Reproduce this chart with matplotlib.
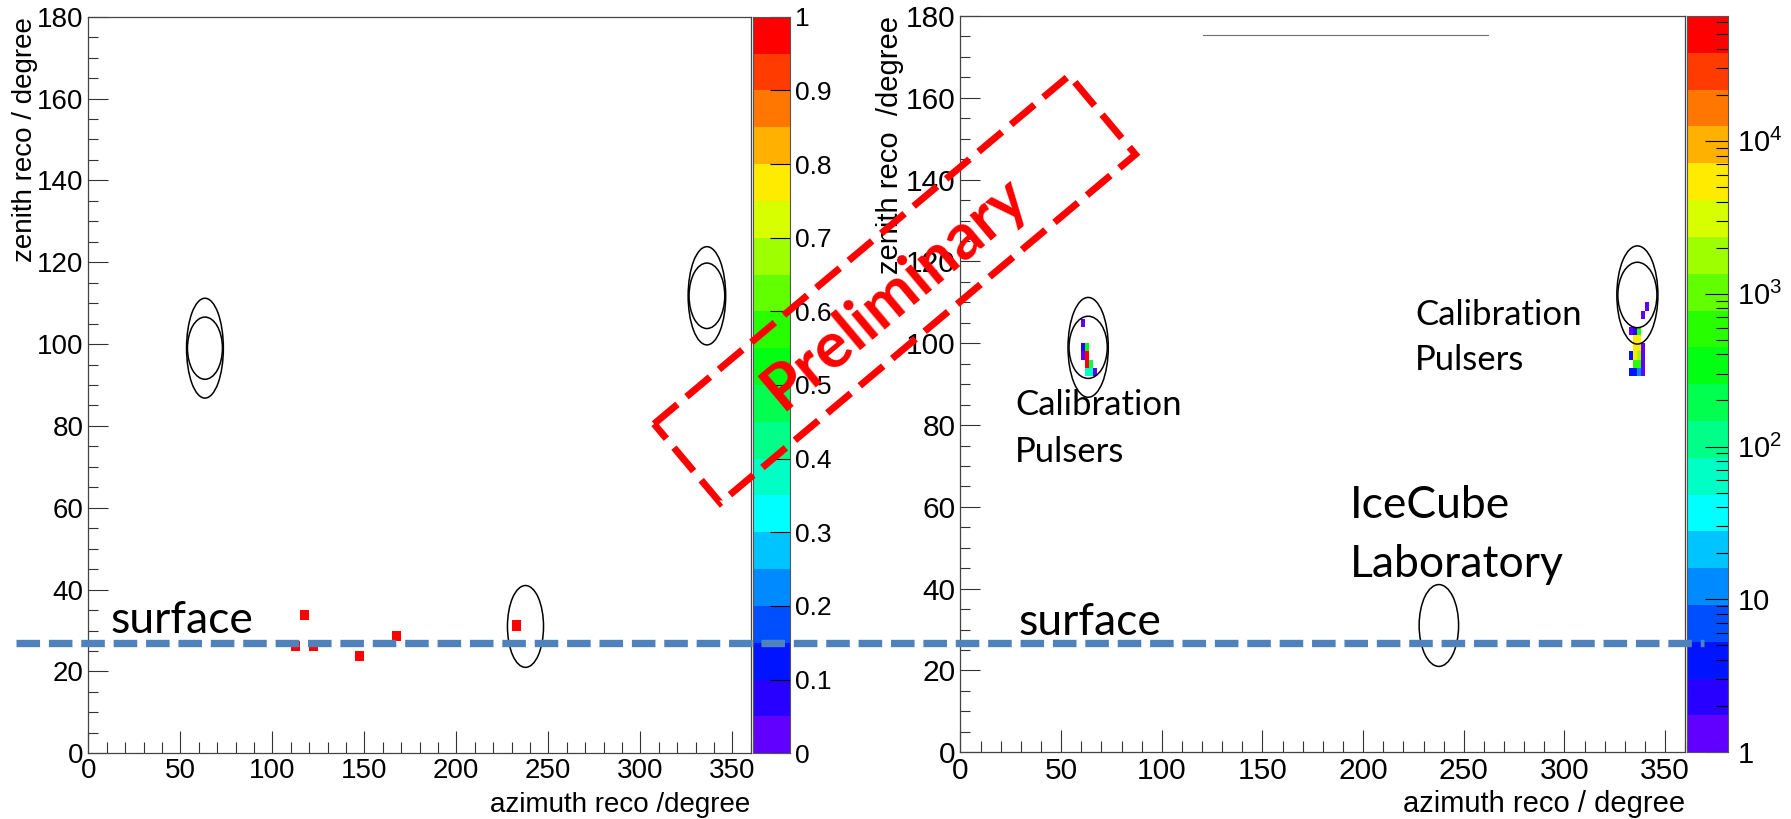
import numpy as np
import matplotlib
matplotlib.use("Agg")
import matplotlib.pyplot as plt
from matplotlib.colors import ListedColormap, BoundaryNorm, hsv_to_rgb
from matplotlib.patches import Ellipse, Polygon
from matplotlib.lines import Line2D
from matplotlib.ticker import MultipleLocator, FuncFormatter, LogLocator, NullFormatter

plt.rcParams['font.family'] = ['Liberation Sans', 'DejaVu Sans']
plt.rcParams['mathtext.default'] = 'regular'

W, H = 1791, 819

# ---- bin contents ----
# left: 5 x 2.5 degree bins, normalised
left_az = [117.5, 112.5, 122.5, 147.5, 167.5, 232.5]
left_zen = [33.75, 26.25, 26.25, 23.75, 28.75, 31.25]
left_val = [1, 1, 1, 1, 1, 1]

# right: 2 x 2 degree bins, counts
right_az = [61, 61, 61, 63, 63, 63, 65, 63, 65, 67,
            341, 339, 333, 335, 337, 335, 337, 335, 337, 339,
            333, 335, 337, 339, 335, 337, 339, 333, 335, 337, 339]
right_zen = [105, 99, 97, 99, 97, 95, 95, 93, 93, 93,
             109, 107, 103, 103, 103, 101, 101, 99, 99, 99,
             97, 97, 97, 97, 95, 95, 95, 93, 93, 93, 93]
right_cnt = [1.3, 2.5, 1.3, 300, 60000, 50000, 250, 60, 60, 1.3,
             1.3, 1.3, 1.3, 2.5, 500, 5000, 5000, 5500, 5000, 1.3,
             4, 5000, 1800, 1.3, 600, 600, 1.3, 4, 4, 12, 1.3]
right_zmax = 65400

# source regions drawn as ellipses (azimuth, zenith, width, height)
ell_az = [63.4, 63.4, 336.2, 336.2, 237.6]
ell_zen = [99.0, 99.0, 111.8, 111.8, 31.0]
ell_w = [20.0, 19.0, 20.4, 19.4, 19.6]
ell_h = [24.4, 15.2, 24.0, 16.0, 20.0]

surface_zen = 27.0

# ROOT "pretty" palette, 20 contour levels (violet -> red)
hues = 263.0 * (19 - np.arange(20)) / 19 / 360.0
pal = ListedColormap(hsv_to_rgb(np.column_stack([hues, np.ones(20), np.ones(20)])))


def fill_hist(az, zen, val, dx, dy):
    xe = np.arange(0, 360 + dx, dx)
    ye = np.arange(0, 180 + dy, dy)
    h, _, _ = np.histogram2d(az, zen, bins=[xe, ye], weights=val)
    return xe, ye, np.ma.masked_equal(h.T, 0)


def fig_rect(x0, y0, x1, y1):
    # pixel box (top-left origin) -> figure fraction
    return [x0 / W, 1 - y1 / H, (x1 - x0) / W, (y1 - y0) / H]


def style_frame(ax, fs, lfs, xlab, ylab, ylab_x, xlab_y):
    ax.set_xlim(0, 360)
    ax.set_ylim(0, 180)
    ax.xaxis.set_major_locator(MultipleLocator(50))
    ax.xaxis.set_minor_locator(MultipleLocator(10))
    ax.yaxis.set_major_locator(MultipleLocator(20))
    ax.yaxis.set_minor_locator(MultipleLocator(5))
    ax.tick_params(axis='x', which='major', direction='in', length=15.8, width=0.8,
                   color='#333333', pad=3.5, labelsize=fs, top=False)
    ax.tick_params(axis='x', which='minor', direction='in', length=7.9, width=0.8,
                   color='#333333', top=False)
    ax.tick_params(axis='y', which='major', direction='in', length=14.4, width=0.8,
                   color='#333333', pad=3.5, labelsize=fs, right=False)
    ax.tick_params(axis='y', which='minor', direction='in', length=7.2, width=0.8,
                   color='#333333', right=False)
    for s in ax.spines.values():
        s.set_color('#444444')
        s.set_linewidth(0.9)
    ax.set_xlabel(xlab, fontsize=lfs, loc='right')
    ax.xaxis.set_label_coords(1.0, xlab_y)
    ax.xaxis.label.set_va('baseline')
    ax.set_ylabel(ylab, fontsize=lfs, loc='top')
    ax.yaxis.set_label_coords(ylab_x, 1.0)
    ax.yaxis.label.set_va('center')
    for a, z, w, h in zip(ell_az, ell_zen, ell_w, ell_h):
        ax.add_patch(Ellipse((a, z), w, h, fill=False, ec='black', lw=1.1, zorder=3))


def palette_axis(cax, levels):
    cax.pcolormesh([0, 1], levels, np.arange(20).reshape(-1, 1), cmap=pal,
                   vmin=-0.5, vmax=19.5)
    cax.set_xlim(0, 1)
    cax.set_xticks([])
    cax.yaxis.tick_right()
    for s in cax.spines.values():
        s.set_color('#555555')
        s.set_linewidth(0.8)


fig = plt.figure(figsize=(W / 100, H / 100), dpi=100)

# ---- left panel ----
ax1 = fig.add_axes(fig_rect(88.3, 16.7, 750.7, 753.3))
xe, ye, h1 = fill_hist(left_az, left_zen, left_val, 5, 2.5)
ax1.pcolormesh(xe, ye, h1, cmap=pal, norm=BoundaryNorm(np.linspace(0, 1, 21), 20, clip=True))
style_frame(ax1, 20, 20, 'azimuth reco /degree', 'zenith reco / degree', -0.0956, -0.0793)
ax1.text(11.8, 29.4, 'surface', family='Lato', fontsize=32, va='baseline')

cax1 = fig.add_axes(fig_rect(752.7, 16.7, 790.0, 753.3))
palette_axis(cax1, np.linspace(0, 1, 21))
cax1.set_ylim(0, 1)
cax1.yaxis.set_major_locator(MultipleLocator(0.1))
cax1.yaxis.set_major_formatter(FuncFormatter(lambda v, _: f'{v:.1f}'.rstrip('0').rstrip('.') if v else '0'))
cax1.tick_params(axis='y', which='major', direction='in', length=14.4, width=0.8,
                 color='black', pad=3.6, labelsize=19, left=False, right=True)

# ---- right panel ----
ax2 = fig.add_axes(fig_rect(960.5, 16.0, 1685.3, 752.3))
xe, ye, h2 = fill_hist(right_az, right_zen, right_cnt, 2, 2)
levels2 = np.logspace(0, np.log10(right_zmax), 21)
ax2.pcolormesh(xe, ye, h2, cmap=pal, norm=BoundaryNorm(levels2, 20, clip=True))
style_frame(ax2, 21.5, 21, 'azimuth reco / degree', 'zenith reco  /degree', -0.0973, -0.0811)
ax2.plot([0.3346, 0.7278], [0.9746, 0.9746], color='#707070', lw=0.8, transform=ax2.transAxes)
ax2.text(28.6, 28.6, 'surface', family='Lato', fontsize=32, va='baseline')
ax2.text(27.1, 82.5, 'Calibration', family='Lato', fontsize=25, va='baseline')
ax2.text(27.1, 71.0, 'Pulsers', family='Lato', fontsize=25, va='baseline')
ax2.text(225.8, 104.5, 'Calibration', family='Lato', fontsize=25, va='baseline')
ax2.text(225.8, 93.5, 'Pulsers', family='Lato', fontsize=25, va='baseline')
ax2.text(193.5, 57.3, 'IceCube', family='Lato', fontsize=32, va='baseline')
ax2.text(193.5, 42.8, 'Laboratory', family='Lato', fontsize=32, va='baseline')

cax2 = fig.add_axes(fig_rect(1686.7, 16.0, 1727.7, 752.3))
palette_axis(cax2, levels2)
cax2.set_yscale('log')
cax2.set_ylim(1, right_zmax)
cax2.yaxis.set_major_locator(LogLocator(base=10, numticks=10))
cax2.yaxis.set_minor_locator(LogLocator(base=10, subs=np.arange(2, 10), numticks=20))
cax2.yaxis.set_minor_formatter(NullFormatter())
cax2.yaxis.set_major_formatter(FuncFormatter(
    lambda v, _: '1' if v < 5 else ('10' if v < 50 else r'$10^{%d}$' % round(np.log10(v)))))
cax2.tick_params(axis='y', which='major', direction='in', length=16.5, width=0.8,
                 color='black', pad=7, labelsize=21, left=False, right=True)
cax2.tick_params(axis='y', which='minor', direction='in', length=8.6, width=0.8,
                 color='black', left=False, right=True)

# ---- surface line across both panels ----
ys = 1 - 642.7 / H
fig.add_artist(Line2D([16 / W, 1704 / W], [ys, ys], color='#4F81BD', lw=5.3,
                      dashes=(3.2, 1.2), solid_capstyle='butt', dash_capstyle='butt',
                      transform=fig.transFigure, zorder=5))

# ---- "Preliminary" stamp ----
cx, cy = 894.75, 289.2
ang = np.deg2rad(40.0)
L, S = 542.0, 103.0
u = np.array([np.cos(ang), -np.sin(ang)])
v = np.array([np.sin(ang), np.cos(ang)])
corners = [np.array([cx, cy]) + sx * L / 2 * u + sy * S / 2 * v
           for sx, sy in [(-1, -1), (1, -1), (1, 1), (-1, 1)]]
corners = [(p[0] / W, 1 - p[1] / H) for p in corners]
fig.add_artist(Polygon(corners, closed=True, fill=False, ec='#FF0000', lw=5.0,
                       ls=(0, (4.4, 1.7)), joinstyle='miter', transform=fig.transFigure, zorder=6))
fig.text(895 / W, 1 - 292 / H, 'Preliminary', family='Lato', weight='bold', fontsize=46,
         color='#FF0000', rotation=40, rotation_mode='anchor', ha='center', va='center', zorder=7)

fig.savefig('out.png', dpi=100)
